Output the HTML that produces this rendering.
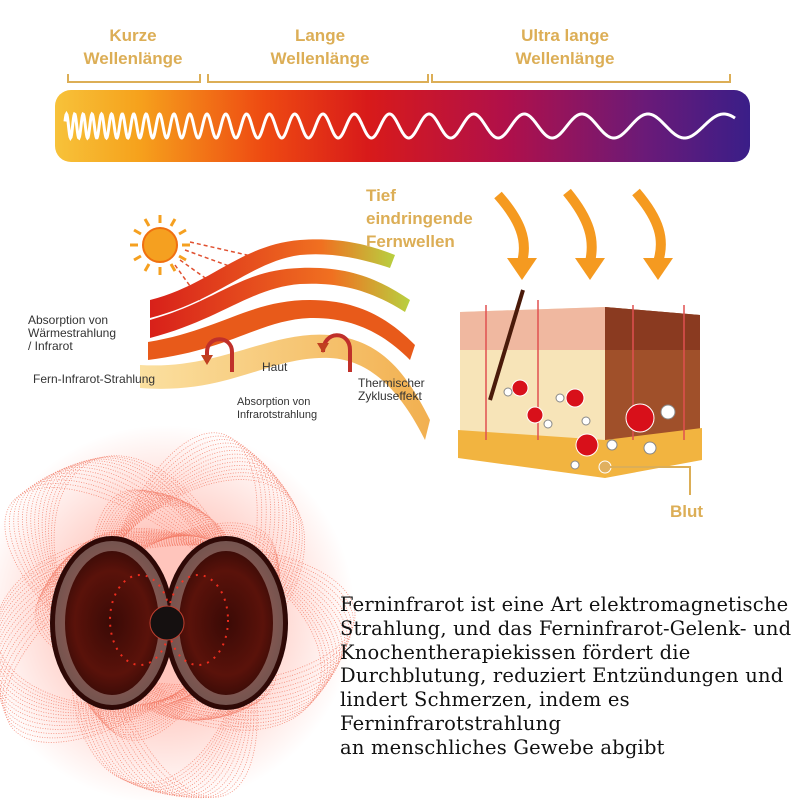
<!DOCTYPE html>
<html><head><meta charset="utf-8"><style>
html,body{margin:0;padding:0;background:#fff}
#c{position:relative;width:800px;height:800px;overflow:hidden;background:#fff;font-family:"Liberation Sans",sans-serif}
.g{position:absolute;color:#dcae56;font-weight:bold;font-size:17px;text-align:center;line-height:23px}
.s{position:absolute;font-size:12px;color:#333;line-height:13px}
.p{position:absolute;left:340px;top:593px;font-family:"DejaVu Serif",serif;font-size:19.5px;letter-spacing:0.2px;line-height:23.8px;color:#111;white-space:nowrap}
</style></head><body><div id="c">
<svg width="800" height="800" style="position:absolute;left:0;top:0" id="sv">
<defs>
<linearGradient id="spec" x1="0" x2="1">
<stop offset="0" stop-color="#f7c23a"/><stop offset="0.12" stop-color="#f6a21c"/><stop offset="0.3" stop-color="#ee4a12"/><stop offset="0.45" stop-color="#d81a1a"/><stop offset="0.65" stop-color="#b0104a"/><stop offset="0.85" stop-color="#6a1a78"/><stop offset="1" stop-color="#3a1e88"/>
</linearGradient>
<radialGradient id="glow"><stop offset="0.4" stop-color="#ff5a40" stop-opacity="0.35"/><stop offset="1" stop-color="#ff5a40" stop-opacity="0"/></radialGradient>
<radialGradient id="pad"><stop offset="0" stop-color="#3a0a06"/><stop offset="0.6" stop-color="#5a120a"/><stop offset="1" stop-color="#2a0806"/></radialGradient>
<linearGradient id="band1" x1="0" x2="1"><stop offset="0" stop-color="#d8201a"/><stop offset="0.7" stop-color="#f07020"/><stop offset="1" stop-color="#b8d040"/></linearGradient>
<linearGradient id="band2" x1="0" x2="1"><stop offset="0" stop-color="#fbe0a0"/><stop offset="1" stop-color="#f2b050"/></linearGradient>
</defs>
<g stroke="#dcae56" stroke-width="2" fill="none">
<path d="M68 74 V82 H200 V74"/><path d="M208 74 V82 H428 V74"/><path d="M432 74 V82 H730 V74"/>
</g>
<rect x="55" y="90" width="695" height="72" rx="16" fill="url(#spec)"/>
<path id="wave" fill="none" stroke="#fff" stroke-width="3"/>
<g id="sun"></g>
<circle cx="160" cy="245" r="17" fill="#f5a020" stroke="#f07010" stroke-width="2"/>
<g stroke="#e05030" stroke-width="1.5" stroke-dasharray="4 3">
<line x1="180" y1="260" x2="215" y2="285"/><line x1="185" y1="250" x2="240" y2="270"/><line x1="175" y1="265" x2="200" y2="300"/><line x1="190" y1="242" x2="260" y2="258"/>
</g>
<path d="M150 320 C220 300 240 270 300 268 C350 266 380 280 410 300 L405 312 C370 290 340 282 300 284 C250 288 220 320 150 338 Z" fill="url(#band1)"/>
<path d="M150 300 C210 285 240 245 300 240 C340 237 370 245 395 255 L390 268 C360 258 330 252 300 255 C250 262 220 300 150 318 Z" fill="url(#band1)"/>
<path d="M148 342 C220 330 250 300 310 300 C360 300 390 320 415 345 L410 360 C385 335 355 317 310 318 C260 320 230 350 148 360 Z" fill="#e85a1a"/>
<path d="M140 365 C220 370 270 330 330 335 C380 340 405 370 430 420 L425 440 C400 390 370 360 330 358 C270 355 230 395 140 388 Z" fill="url(#band2)"/>
<g stroke="#c0302a" stroke-width="4" fill="none">
<path d="M207 362 V352 C207 335 232 335 232 352 V372"/><path d="M323 352 C323 330 350 330 350 350 V372"/>
</g>
<g fill="#c04020"><path d="M201 355 h12 l-6 10z"/><path d="M317 343 h12 l-6 10z"/></g>
<g fill="none" stroke="#f59a20" stroke-width="10">
<path d="M498 195 C520 220 528 240 522 262"/><path d="M567 192 C590 220 595 240 590 262"/><path d="M636 192 C660 220 665 240 658 262"/>
</g>
<g fill="#f59a20"><path d="M507 258 h30 l-15 22z"/><path d="M575 258 h30 l-15 22z"/><path d="M643 258 h30 l-15 22z"/></g>
<path d="M460 312 L605 307 L700 315 L700 460 L605 475 L460 455 Z" fill="#f7e4b8"/>
<path d="M605 307 L700 315 L700 460 L605 475 Z" fill="#a0502a"/>
<path d="M460 312 L605 307 L605 350 L460 350 Z" fill="#f0b8a0"/>
<path d="M605 307 L700 315 L700 350 L605 350 Z" fill="#8a3a20"/>
<path d="M458 430 L605 440 L702 428 L702 460 L605 478 L458 458 Z" fill="#f2b440"/>
<g stroke="#e05050" stroke-width="1.5"><line x1="486" y1="305" x2="486" y2="440"/><line x1="538" y1="300" x2="538" y2="440"/><line x1="633" y1="305" x2="633" y2="440"/><line x1="684" y1="305" x2="684" y2="440"/></g>
<path d="M523 290 L490 400" stroke="#4a1a0a" stroke-width="4"/>
<g fill="#d8101a" stroke="#fff" stroke-width="1"><circle cx="520" cy="388" r="8"/><circle cx="575" cy="398" r="9"/><circle cx="535" cy="415" r="8"/><circle cx="587" cy="445" r="11"/><circle cx="640" cy="418" r="14"/></g>
<g fill="#fff" stroke="#888"><circle cx="508" cy="392" r="4"/><circle cx="560" cy="398" r="4"/><circle cx="586" cy="421" r="4"/><circle cx="548" cy="424" r="4"/><circle cx="575" cy="465" r="4"/><circle cx="612" cy="445" r="5"/><circle cx="668" cy="412" r="7"/><circle cx="650" cy="448" r="6"/></g>
<circle cx="605" cy="467" r="6" fill="#e0b060" stroke="#fff"/>
<path d="M610 467 H690 V495" stroke="#dcae56" stroke-width="2" fill="none"/>
<circle cx="165" cy="615" r="190" fill="url(#glow)"/>
<g id="sw" fill="none" stroke="#f06850" stroke-width="0.8" stroke-dasharray="1 1.5" opacity="0.75"></g>
<ellipse cx="112" cy="623" rx="62" ry="87" fill="url(#pad)"/>
<ellipse cx="226" cy="623" rx="62" ry="87" fill="url(#pad)"/>
<ellipse cx="112" cy="623" rx="52" ry="77" fill="none" stroke="#c8b0a8" stroke-width="10" opacity="0.45"/>
<ellipse cx="226" cy="623" rx="52" ry="77" fill="none" stroke="#c8b0a8" stroke-width="10" opacity="0.45"/>
<g fill="none" stroke="#ff3020" stroke-width="2" stroke-dasharray="2 6" opacity="0.9"><ellipse cx="140" cy="620" rx="30" ry="45"/><ellipse cx="198" cy="620" rx="30" ry="45"/></g>
<circle cx="167" cy="623" r="17" fill="#151010" stroke="#c04030"/>
</svg>
<div class="g" style="left:58px;top:24px;width:150px">Kurze<br>Wellenlänge</div>
<div class="g" style="left:245px;top:24px;width:150px">Lange<br>Wellenlänge</div>
<div class="g" style="left:490px;top:24px;width:150px">Ultra lange<br>Wellenlänge</div>
<div class="g" style="left:366px;top:184px;text-align:left">Tief<br>eindringende<br>Fernwellen</div>
<div class="g" style="left:670px;top:500px;text-align:left">Blut</div>
<div class="s" style="left:28px;top:314px">Absorption von<br>Wärmestrahlung<br>/ Infrarot</div>
<div class="s" style="left:33px;top:373px">Fern-Infrarot-Strahlung</div>
<div class="s" style="left:262px;top:361px">Haut</div>
<div class="s" style="left:237px;top:396px;font-size:11px">Absorption von<br>Infrarotstrahlung</div>
<div class="s" style="left:358px;top:377px">Thermischer<br>Zykluseffekt</div>
<div class="p">Ferninfrarot ist eine Art elektromagnetische<br>Strahlung, und das Ferninfrarot-Gelenk- und<br>Knochentherapiekissen fördert die<br>Durchblutung, reduziert Entzündungen und<br>lindert Schmerzen, indem es<br>Ferninfrarotstrahlung<br>an menschliches Gewebe abgibt</div>
</div>
<script>
var d="",ph=0,x;
for(x=65;x<=735;x+=0.5){var p=8+Math.pow((x-65)/670,1.3)*75;ph+=2*Math.PI*0.5/p;var y=126-12*Math.sin(ph);d+=(x==65?"M":"L")+x+" "+y.toFixed(2);}
document.getElementById("wave").setAttribute("d",d);
var sw=document.getElementById("sw"),h="";
for(var k=0;k<5;k++){for(var i=0;i<14;i++){var a=k*72+i*2.2;h+='<ellipse cx="165" cy="615" rx="'+(160-i*1.5)+'" ry="'+(70+i*1.2)+'" transform="rotate('+a+' 165 615) translate(30 0)"/>';}}
sw.innerHTML=h;
var s="";for(var j=0;j<12;j++){var an=j*30*Math.PI/180;s+='<line x1="'+(160+22*Math.cos(an))+'" y1="'+(245+22*Math.sin(an))+'" x2="'+(160+30*Math.cos(an))+'" y2="'+(245+30*Math.sin(an))+'" stroke="#f5a020" stroke-width="3"/>';}
document.getElementById("sun").innerHTML=s;
</script>
</body></html>
